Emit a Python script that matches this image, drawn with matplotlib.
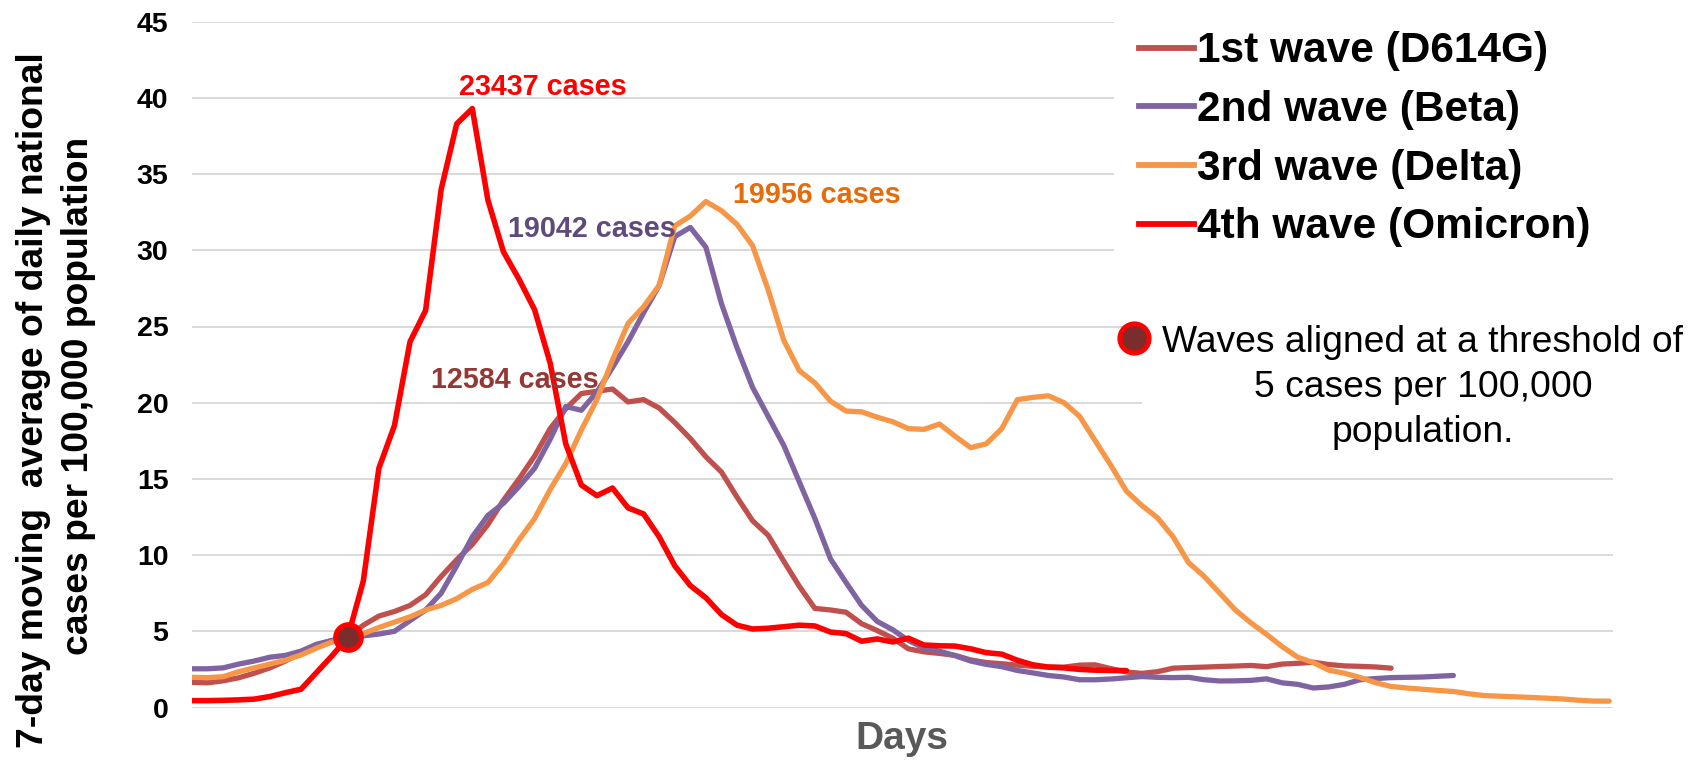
import numpy as np
import matplotlib.pyplot as plt
from matplotlib.lines import Line2D

plt.rcParams['font.family'] = ['Liberation Sans', 'DejaVu Sans']

# 7-day moving average of daily cases per 100,000 population,
# read off the original chart every 2nd day (waves aligned on day 20)
day_step = 2
align_day = 20

wave1 = [1.65, 1.62, 1.75, 1.95, 2.25, 2.6, 3.05, 3.6, 4.1, 4.4,
         4.6, 5.4, 6.0, 6.3, 6.7, 7.4, 8.6, 9.7, 10.7, 12.0,
         13.6, 15.0, 16.5, 18.3, 19.6, 20.6, 20.75, 20.9, 20.05, 20.2,
         19.65, 18.7, 17.65, 16.45, 15.45, 13.8, 12.25, 11.3, 9.6, 7.95,
         6.5, 6.4, 6.25, 5.5, 5.05, 4.55, 3.85, 3.65, 3.55, 3.42,
         3.12, 2.95, 2.87, 2.78, 2.7, 2.66, 2.65, 2.78, 2.8, 2.55,
         2.33, 2.24, 2.35, 2.58, 2.62, 2.65, 2.69, 2.72, 2.76, 2.68,
         2.85, 2.9, 2.97, 2.82, 2.73, 2.7, 2.66, 2.58]

wave2 = [2.54, 2.54, 2.6, 2.85, 3.05, 3.3, 3.42, 3.7, 4.15, 4.4,
         4.6, 4.7, 4.82, 5.0, 5.7, 6.4, 7.5, 9.3, 11.2, 12.6,
         13.4, 14.5, 15.7, 17.6, 19.75, 19.5, 20.7, 22.3, 24.0, 25.9,
         27.7, 30.9, 31.5, 30.2, 26.5, 23.6, 21.0, 19.1, 17.2, 14.8,
         12.4, 9.75, 8.2, 6.7, 5.65, 5.1, 4.4, 3.9, 3.7, 3.4,
         3.05, 2.83, 2.68, 2.43, 2.27, 2.1, 2.0, 1.82, 1.82, 1.87,
         1.95, 2.03, 1.98, 1.96, 1.98, 1.82, 1.74, 1.75, 1.78, 1.88,
         1.62, 1.52, 1.28, 1.35, 1.52, 1.82, 1.9, 1.96, 1.98, 2.0,
         2.05, 2.1]

wave3 = [1.98, 1.96, 2.02, 2.35, 2.6, 2.85, 3.1, 3.45, 3.9, 4.3,
         4.6, 4.85, 5.25, 5.6, 5.95, 6.4, 6.7, 7.14, 7.75, 8.2,
         9.45, 11.0, 12.4, 14.3, 16.0, 18.2, 20.2, 22.8, 25.2, 26.3,
         27.7, 31.6, 32.25, 33.2, 32.6, 31.7, 30.3, 27.4, 24.1, 22.1,
         21.3, 20.1, 19.45, 19.4, 19.05, 18.75, 18.3, 18.25, 18.6, 17.8,
         17.05, 17.3, 18.3, 20.2, 20.35, 20.45, 20.0, 19.1, 17.5, 15.9,
         14.2, 13.25, 12.45, 11.2, 9.5, 8.6, 7.5, 6.4, 5.55, 4.8,
         4.0, 3.3, 2.95, 2.45, 2.25, 1.97, 1.63, 1.38, 1.28, 1.2,
         1.12, 1.05, 0.9, 0.78, 0.74, 0.7, 0.66, 0.61, 0.56, 0.48,
         0.42, 0.42]

wave4 = [0.45, 0.45, 0.47, 0.5, 0.55, 0.72, 0.97, 1.2, 2.3, 3.4,
         4.6, 8.3, 15.7, 18.5, 24.0, 26.05, 34.0, 38.3, 39.3, 33.3,
         29.9, 28.1, 26.1, 22.6, 17.3, 14.6, 13.9, 14.4, 13.1, 12.7,
         11.2, 9.3, 8.0, 7.2, 6.1, 5.4, 5.15, 5.2, 5.3, 5.4,
         5.35, 4.95, 4.85, 4.35, 4.5, 4.3, 4.55, 4.1, 4.05, 4.03,
         3.85, 3.6, 3.5, 3.1, 2.8, 2.65, 2.6, 2.5, 2.45, 2.43,
         2.42]

waves = [wave1, wave2, wave3, wave4]
wave_names = ['1st wave (D614G)', '2nd wave (Beta)', '3rd wave (Delta)', '4th wave (Omicron)']
wave_colors = ['#C0504D', '#8064A2', '#F79646', '#FF0000']
wave_widths = [3.8, 3.8, 3.8, 4.0]

peak_labels = ['12584 cases', '19042 cases', '19956 cases', '23437 cases']
peak_colors = ['#953735', '#604A7B', '#E46C0A', '#FF0000']
# where each label sits (day, value), text baseline centred there
peak_label_pos = [(41.4, 20.94), (51.4, 30.9), (80.3, 33.1), (45.1, 40.21)]

note = 'Waves aligned at a threshold of\n5 cases per 100,000\npopulation.'

W, H = 1690, 761
fig = plt.figure(figsize=(W / 100, H / 100), dpi=100)
ax = fig.add_axes([192 / W, 1 - 707.5 / H, (1613 - 192) / W, (707.5 - 21.7) / H])

for vals, name, col, lw in zip(waves, wave_names, wave_colors, wave_widths):
    days = np.arange(len(vals)) * day_step
    ax.plot(days, vals, color=col, lw=lw, label=name,
            solid_joinstyle='round', solid_capstyle='round', zorder=2)

# threshold point where all waves were aligned
ia = align_day // day_step
ax.plot(align_day, wave4[ia], 'o', ms=18.5, mfc='#7B2C2C', mec='#FF0000',
        mew=3.6, zorder=5)

for txt, col, (xd, yv) in zip(peak_labels, peak_colors, peak_label_pos):
    ax.text(xd, yv, txt, color=col, fontsize=20.7, fontweight='bold',
            ha='center', va='baseline', zorder=6)

ax.set_xlim(0, 182.5)
ax.set_ylim(0, 45)
ax.set_yticks(np.arange(0, 46, 5))
ax.set_xticks([])
ax.grid(axis='y', color='#D9D9D9', lw=1.4)
ax.set_axisbelow(True)
for s in ax.spines.values():
    s.set_visible(False)
ax.tick_params(axis='y', length=0, pad=17, labelsize=20.5)
for lbl in ax.get_yticklabels():
    lbl.set_fontweight('bold')

handles = [Line2D([], [], color=c, lw=4.2) for c in wave_colors]
ax.legend(handles, wave_names, loc='upper left',
          bbox_to_anchor=(1114 / W, 1 - 6 / H), bbox_transform=fig.transFigure,
          frameon=True, facecolor='white', edgecolor='none', framealpha=1,
          fancybox=False, borderpad=0.6, borderaxespad=0, handlelength=1.3,
          handletextpad=0.05, labelspacing=0.44,
          prop={'weight': 'bold', 'size': 30.5})

# y label, two centred lines
fig.text(43 / W, 1 - 400 / H, '7-day moving  average of daily national',
         rotation=90, rotation_mode='anchor', ha='center', va='baseline',
         fontsize=26.8, fontweight='bold')
fig.text(88 / W, 1 - 396 / H, 'cases per 100,000 population',
         rotation=90, rotation_mode='anchor', ha='center', va='baseline',
         fontsize=26.8, fontweight='bold')

fig.text(902 / W, 1 - 749 / H, 'Days', ha='center', va='baseline',
         fontsize=28, fontweight='bold', color='#595959')

# note box: baseline of the last line
fig.text(1423 / W, 1 - 442 / H, note, ha='center', va='baseline',
         multialignment='center', fontsize=26.8, linespacing=1.37,
         bbox=dict(boxstyle='square,pad=0.55', fc='white', ec='none'), zorder=3)
fig.add_artist(Line2D([1134 / W], [1 - 338 / H], marker='o', ms=21,
                      mfc='#7B2C2C', mec='#FF0000', mew=3.6,
                      transform=fig.transFigure, zorder=4))

fig.savefig('out.png', dpi=100)
